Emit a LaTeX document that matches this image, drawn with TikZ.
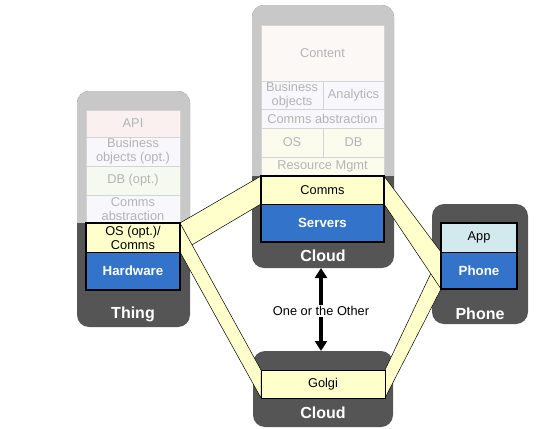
\documentclass[tikz,border=0pt]{standalone}
\usepackage{fontspec}
\setmainfont{Liberation Sans}
\usetikzlibrary{arrows.meta}
\definecolor{devdark}{HTML}{555555}
\definecolor{devlight}{HTML}{C8C8C8}
\definecolor{hwblue}{HTML}{3373C9}
\definecolor{commyel}{HTML}{FFFFCC}
\definecolor{appblue}{HTML}{D2E9EE}
\definecolor{fadetext}{HTML}{B4B4B4}
\definecolor{fadeline}{HTML}{D4D4D4}
\definecolor{fpink}{HTML}{FBF0F0}
\definecolor{fblue}{HTML}{F8F8FC}
\definecolor{fgreen}{HTML}{F6F9EF}
\definecolor{fyel}{HTML}{FCFCEE}
\definecolor{fcream}{HTML}{FCF8F5}
\pgfdeclarelayer{devs}
\pgfdeclarelayer{bands}
\pgfsetlayers{devs,bands,main}
\tikzset{
 device/.style={anchor=north west, fill=devdark, rounded corners=12pt, inner sep=0pt, outer sep=0pt},
 cell/.style={anchor=north west, inner sep=0pt, outer sep=0pt, align=center, font=\fontsize{12.8}{14}\selectfont},
 fade/.style={cell, draw=fadeline, text=fadetext},
 live/.style={cell, draw=black, line width=0.6pt},
 hw/.style={live, fill=hwblue, text=white, font=\fontsize{13.3}{14}\selectfont\bfseries},
 yel/.style={live, fill=commyel},
 devlabel/.style={text=white, font=\fontsize{16}{18}\selectfont\bfseries},
 band/.style={fill=commyel, draw=black, line width=0.5pt, line join=round},
 box/.style={draw=black, line width=1.8pt},
 big/.style={line width=4pt, -{Triangle[width=12pt,length=10pt]}}
}
\begin{document}
\begin{tikzpicture}[x=1pt,y=-1pt]
\useasboundingbox (0,0) rectangle (550,429);
% devices
\begin{pgfonlayer}{devs}
\node[device, minimum width=113pt, minimum height=236pt] (thingdev) at (77,91) {};
\begin{scope}
\clip[rounded corners=12pt] (77,91) rectangle (190,327);
\fill[devlight] (77,91) rectangle (190,223);
\end{scope}
\node[device, minimum width=142pt, minimum height=263pt] (clouddev) at (252,5) {};
\begin{scope}
\clip[rounded corners=12pt] (252,5) rectangle (394,268);
\fill[devlight] (252,5) rectangle (394,176);
\end{scope}
\node[device, minimum width=96pt, minimum height=120pt] (phonedev) at (432,204) {};
\node[device, minimum width=140pt, minimum height=76pt] (golgidev) at (253,351) {};
\end{pgfonlayer}
% Thing stack
\node[fade, fill=fpink, minimum width=94pt, minimum height=27pt] (tapi) at (86,110) {API};
\node[fade, fill=fblue, minimum width=94pt, minimum height=29pt] (tbo) at (86,137) {Business\\objects (opt.)};
\node[fade, fill=fgreen, minimum width=94pt, minimum height=29pt] (tdb) at (86,166) {DB (opt.)};
\node[fade, fill=fblue, minimum width=94pt, minimum height=28pt] (tca) at (86,195) {Comms\\abstraction};
\node[yel, minimum width=94pt, minimum height=29pt] (thos) at (86,223) {OS (opt.)/\\Comms};
\node[hw, minimum width=94pt, minimum height=38pt] (thhw) at (86,252) {Hardware};
\draw[box] (thos.north west) rectangle (thhw.south east);
\node[devlabel] (thinglbl) at (133,314) {Thing};
% Cloud stack
\node[fade, fill=fcream, minimum width=123pt, minimum height=56pt] (ccontent) at (261,25) {Content};
\node[fade, fill=fblue, minimum width=62pt, minimum height=28pt] (cbo) at (261,81) {Business\\objects};
\node[fade, fill=fblue, minimum width=61pt, minimum height=28pt] (can) at (323,81) {Analytics};
\node[fade, fill=fblue, minimum width=123pt, minimum height=19pt] (cca) at (261,109) {Comms abstraction};
\node[fade, fill=fyel, minimum width=62pt, minimum height=29pt] (cos) at (261,128) {OS};
\node[fade, fill=fyel, minimum width=61pt, minimum height=29pt] (cdb) at (323,128) {DB};
\node[fade, fill=fyel, minimum width=123pt, minimum height=19pt] (crm) at (261,157) {Resource Mgmt};
\node[yel, minimum width=123pt, minimum height=28pt] (ccomms) at (261,176) {Comms};
\node[hw, minimum width=123pt, minimum height=38pt] (cserv) at (261,204) {Servers};
\draw[box] (ccomms.north west) rectangle (cserv.south east);
\node[devlabel] (cloudlbl) at (323,256) {Cloud};
% Phone stack
\node[live, fill=appblue, minimum width=76pt, minimum height=29pt] (papp) at (441,223) {App};
\node[hw, minimum width=76pt, minimum height=37pt] (phhw) at (441,252) {Phone};
\draw[box] (papp.north west) rectangle (phhw.south east);
\node[devlabel] (phonelbl) at (480,314) {Phone};
% Golgi
\node[yel, minimum width=124pt, minimum height=28pt] (golgi) at (261,370) {Golgi};
\node[devlabel] (golgilbl) at (323,413) {Cloud};
% bands
\begin{pgfonlayer}{bands}
\draw[band] (golgi.north east) -- (phhw.north west) -- (phhw.south west) -- (golgi.south east) -- cycle;
\draw[band] (ccomms.north east) -- (phhw.north west) -- (phhw.south west) -- (ccomms.south east) -- cycle;
\draw[band] (thos.north east) -- (ccomms.north west) -- (ccomms.south west) -- (thos.south east) -- cycle;
\draw[band] (thos.north east) -- (golgi.north west) -- (golgi.south west) -- (thos.south east) -- cycle;
\end{pgfonlayer}
% arrows
\node[font=\fontsize{12.8}{14}\selectfont, inner sep=1.5pt] (either) at (321,311) {One or the Other};
\draw[big] (either.north) -- (clouddev.south -| either.north);
\draw[big] (either.south) -- (golgidev.north -| either.south);
\end{tikzpicture}
\end{document}
